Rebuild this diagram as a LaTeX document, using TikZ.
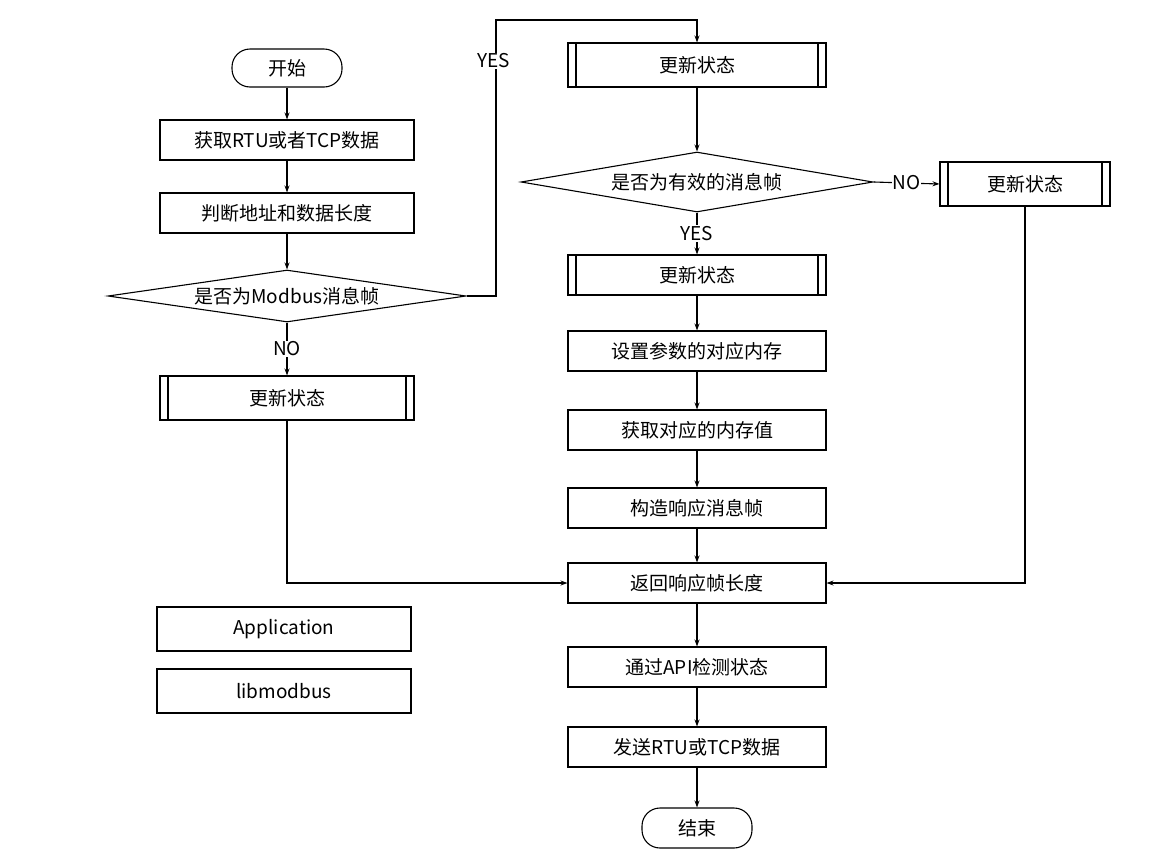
\documentclass[tikz,border=0pt]{standalone}
\usepackage{fontspec}
\setmainfont{Noto Sans CJK SC}
\usetikzlibrary{shapes.geometric,arrows.meta}

\begin{document}
\begin{tikzpicture}[x=1pt, y=-1pt, line width=1.1pt, >={Stealth[length=7pt,width=5pt]}]
    \tikzstyle{every node} = [align=center, font=\fontsize{19}{22}\selectfont]
    \tikzstyle{proc} = [draw, minimum width=254pt, minimum height=40pt, inner sep=2pt]
    \tikzstyle{predef} = [proc, path picture={
        \draw ([xshift=8pt]path picture bounding box.north west) -- ([xshift=8pt]path picture bounding box.south west);
        \draw ([xshift=-8pt]path picture bounding box.north east) -- ([xshift=-8pt]path picture bounding box.south east);}]
    \tikzstyle{term} = [draw, rounded corners=18pt, minimum width=110pt, minimum height=38pt]
    \tikzstyle{decide} = [draw, diamond, aspect=7, inner sep=0pt]
    \tikzstyle{lbl} = [fill=white, inner sep=1pt]
    \useasboundingbox (0,0) rectangle (1156,860);
    % left column
    \node [term] (start) at (287,68) {开始};
    \node [proc] (rtu) at (287,140) {获取RTU或者TCP数据};
    \node [proc] (judge) at (287,213) {判断地址和数据长度};
    \node [decide, minimum width=358pt, minimum height=52pt] (isModbus) at (287,296) {是否为Modbus消息帧};
    \node [predef, minimum height=44pt] (updA) at (287,398) {更新状态};
    \node [proc, minimum height=44pt] (app) at (284,629) {Application};
    \node [proc, minimum height=44pt] (lib) at (284,691) {libmodbus};
    % middle column
    \node [predef, minimum width=258pt, minimum height=44pt] (updB) at (697,65) {更新状态};
    \node [decide, minimum width=352pt, minimum height=60pt] (isValid) at (697,182) {是否为有效的消息帧};
    \node [predef, minimum width=258pt] (updC) at (697,275) {更新状态};
    \node [proc, minimum width=258pt] (setMem) at (697,351) {设置参数的对应内存};
    \node [proc, minimum width=258pt] (getMem) at (697,430) {获取对应的内存值};
    \node [proc, minimum width=258pt] (build) at (697,508) {构造响应消息帧};
    \node [proc, minimum width=258pt] (retLen) at (697,583) {返回响应帧长度};
    \node [proc, minimum width=258pt] (api) at (697,667) {通过API检测状态};
    \node [proc, minimum width=258pt] (send) at (697,747) {发送RTU或TCP数据};
    \node [term, minimum height=40pt] (stop) at (697,828) {结束};
    % right column
    \node [predef, minimum width=170pt, minimum height=44pt] (updD) at (1025,184) {更新状态};
    \coordinate (c1) at (496,20);
    % connectors
    \draw [->] (start) -- (rtu);
    \draw [->] (rtu) -- (judge);
    \draw [->] (judge) -- (isModbus);
    \draw [->] (isModbus) -- node [lbl] {NO} (updA);
    \draw [->] (isModbus.east) -| (c1) -| (updB.north);
    \node [lbl] at (494,61) {YES};
    \draw [->] (updA.south) |- (retLen.west);
    \draw [->] (updB) -- (isValid);
    \draw [->] (isValid) -- node [lbl] {YES} (updC);
    \draw [->] (isValid.east) -- node [lbl] {NO} (updD.west);
    \draw [->] (updD.south) |- (retLen.east);
    \draw [->] (updC) -- (setMem);
    \draw [->] (setMem) -- (getMem);
    \draw [->] (getMem) -- (build);
    \draw [->] (build) -- (retLen);
    \draw [->] (retLen) -- (api);
    \draw [->] (api) -- (send);
    \draw [->] (send) -- (stop);
\end{tikzpicture}
\end{document}
